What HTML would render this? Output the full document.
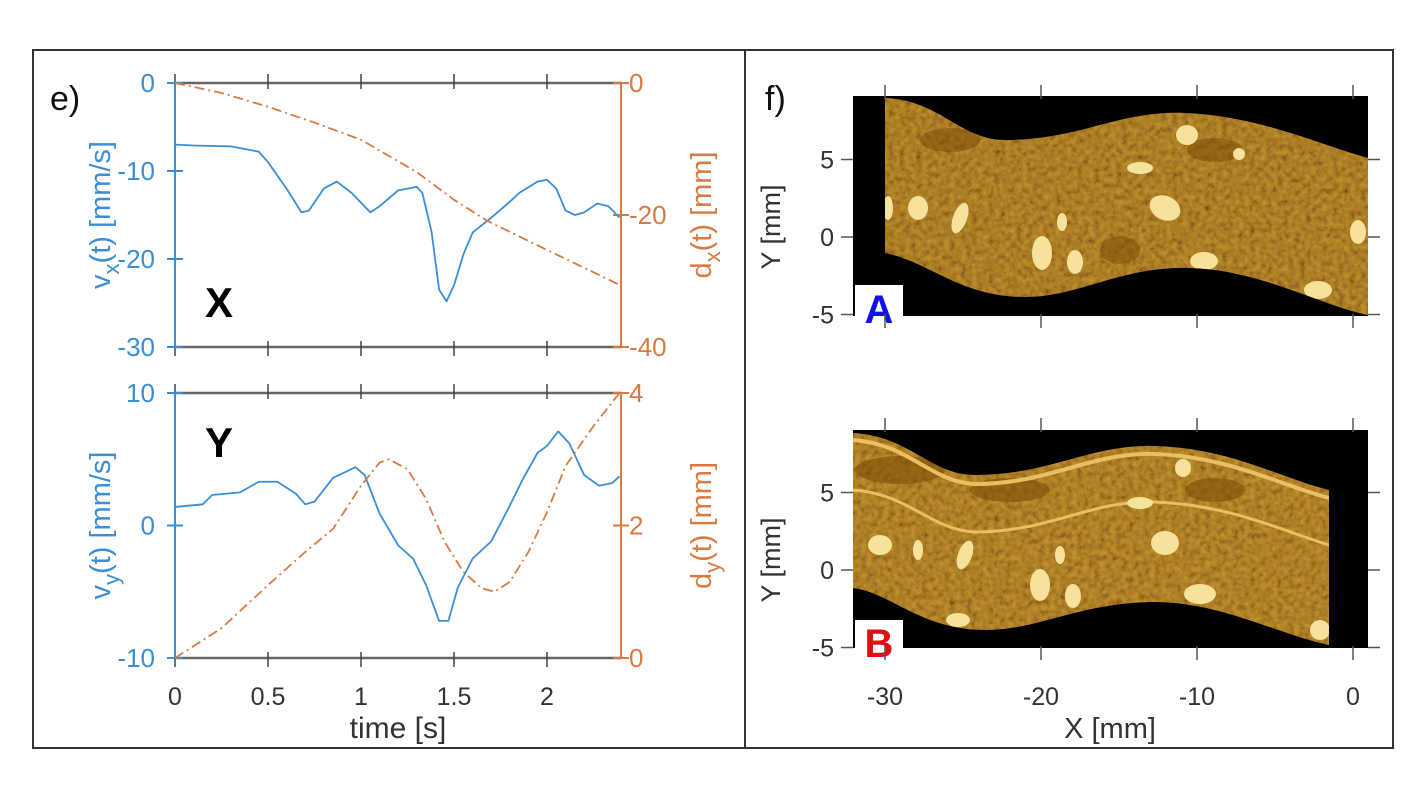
<!DOCTYPE html>
<html><head><meta charset="utf-8"><style>
body{margin:0;background:#fff;}
svg{display:block;font-family:"Liberation Sans",sans-serif;}
</style></head><body>
<svg id="fig" width="1421" height="801" viewBox="0 0 1421 801">
<defs>
<filter id="tex" x="0" y="0" width="100%" height="100%">
<feTurbulence type="fractalNoise" baseFrequency="0.18" numOctaves="2" seed="4" result="n"/>
<feColorMatrix in="n" type="matrix" values="1.2 0 0 0 -0.1  1.0 0 0 0 -0.15  0.2 0 0 0 0  0 0 0 0 1"/>
</filter>
<clipPath id="clipA"><path d="M885,98 C940,100 960,140 1005,140 C1080,140 1120,110 1185,113 C1260,116 1320,145 1368,158 L1368,315 C1320,305 1260,270 1190,268 C1120,266 1080,297 1025,297 C960,297 930,262 885,253 Z"/></clipPath>
<clipPath id="clipB"><path d="M853,433 C910,436 930,475 975,475 C1050,475 1090,444 1155,446 C1230,448 1280,478 1329,490 L1329,645 C1280,635 1220,602 1155,602 C1080,602 1040,630 985,630 C920,630 890,592 853,588 Z"/></clipPath>
</defs>
<rect x="33" y="50" width="1360" height="698" fill="none" stroke="#333" stroke-width="2"/>
<line x1="745" y1="50" x2="745" y2="748" stroke="#333" stroke-width="2"/>
<text x="50" y="110" font-size="34" fill="#111">e)</text>
<text x="765" y="110" font-size="34" fill="#111">f)</text>
<g id="plots"></g>

<g>
<rect x="853" y="96" width="515" height="220" fill="#000"/>
<g clip-path="url(#clipA)"><rect x="853" y="96" width="515" height="220" fill="#a46c0a"/><rect x="853" y="96" width="515" height="220" filter="url(#tex)" opacity="0.35"/>
<ellipse cx="950" cy="140" rx="30" ry="12" fill="#7a4806" opacity="0.5"/><ellipse cx="1120" cy="250" rx="20" ry="14" fill="#7a4806" opacity="0.5"/><ellipse cx="1215" cy="150" rx="28" ry="12" fill="#7a4806" opacity="0.5"/>
<g fill="#f6e29a"><ellipse cx="888" cy="208" rx="5" ry="12"/><ellipse cx="918" cy="208" rx="10" ry="12"/><ellipse cx="960" cy="218" rx="7" ry="16" transform="rotate(20 960 218)"/><ellipse cx="1042" cy="253" rx="10" ry="17"/><ellipse cx="1075" cy="262" rx="8" ry="12"/><ellipse cx="1062" cy="222" rx="5" ry="9"/><ellipse cx="1165" cy="208" rx="16" ry="12" transform="rotate(25 1165 208)"/><ellipse cx="1140" cy="168" rx="13" ry="6"/><ellipse cx="1187" cy="135" rx="11" ry="10"/><ellipse cx="1239" cy="154" rx="6" ry="6"/><ellipse cx="1204" cy="261" rx="14" ry="9"/><ellipse cx="1358" cy="232" rx="8" ry="12"/><ellipse cx="1318" cy="290" rx="14" ry="9"/></g></g>
<rect x="855" y="285" width="48" height="44" fill="#fff"/>
<text x="879" y="323" font-size="40" font-weight="bold" fill="#1010ee" text-anchor="middle">A</text>
</g>
<g>
<rect x="853" y="430" width="515" height="218" fill="#000"/>
<g clip-path="url(#clipB)"><rect x="853" y="430" width="515" height="218" fill="#a86f0c"/><rect x="853" y="430" width="515" height="218" filter="url(#tex)" opacity="0.35"/>
<ellipse cx="900" cy="470" rx="45" ry="14" fill="#7a4806" opacity="0.55"/><ellipse cx="1010" cy="490" rx="40" ry="12" fill="#7a4806" opacity="0.55"/><ellipse cx="1215" cy="490" rx="30" ry="12" fill="#7a4806" opacity="0.55"/>
<path d="M853,490 C910,494 930,530 975,532 C1050,532 1090,500 1155,502 C1230,505 1280,530 1329,545" stroke="#e8c060" stroke-width="3" fill="none"/>
<path d="M853,440 C910,444 930,482 975,484 C1050,484 1090,452 1155,454 C1230,457 1280,485 1329,498" stroke="#e8c060" stroke-width="4" fill="none"/>
<g fill="#f6e29a"><ellipse cx="880" cy="545" rx="12" ry="10"/><ellipse cx="918" cy="550" rx="5" ry="10"/><ellipse cx="965" cy="555" rx="7" ry="15" transform="rotate(20 965 555)"/><ellipse cx="1040" cy="585" rx="10" ry="16"/><ellipse cx="1073" cy="596" rx="8" ry="12"/><ellipse cx="1060" cy="555" rx="5" ry="9"/><ellipse cx="1165" cy="543" rx="14" ry="12"/><ellipse cx="1140" cy="503" rx="13" ry="6"/><ellipse cx="1183" cy="468" rx="8" ry="9"/><ellipse cx="1200" cy="594" rx="16" ry="10"/><ellipse cx="1320" cy="630" rx="10" ry="10"/><ellipse cx="958" cy="620" rx="12" ry="7"/></g></g>
<rect x="855" y="620" width="48" height="44" fill="#fff"/>
<text x="879" y="657" font-size="40" font-weight="bold" fill="#e01010" text-anchor="middle">B</text>
</g>
<g id="imgaxes" fill="#333" font-size="25"></g>
</svg>
<script>
const tData = [0,0.1,0.3,0.45,0.5,0.6,0.68,0.72,0.8,0.87,0.95,1.05,1.1,1.2,1.3,1.33,1.38,1.42,1.46,1.5,1.55,1.6,1.7,1.8,1.85,1.95,2.0,2.05,2.1,2.15,2.2,2.27,2.33,2.39];
const vxData = [-7,-7.1,-7.2,-7.8,-9,-12,-14.7,-14.5,-12,-11.2,-12.5,-14.7,-14,-12.2,-11.8,-12.5,-17,-23.5,-24.8,-23,-19.5,-17,-15.3,-13.5,-12.5,-11.2,-11,-12,-14.5,-15,-14.7,-13.7,-14,-15.3];
const tDx = [0,0.25,0.5,0.75,1,1.3,1.5,1.68,2,2.2,2.39];
const dxData = [0,-1.5,-3.6,-6,-8.6,-13.5,-17.7,-20.9,-25.3,-28,-30.6];
const tVy = [0,0.15,0.2,0.35,0.45,0.55,0.65,0.7,0.75,0.85,0.97,1.02,1.1,1.2,1.28,1.35,1.42,1.47,1.52,1.6,1.7,1.8,1.87,1.95,2.0,2.06,2.12,2.2,2.28,2.35,2.39];
const vyData = [1.4,1.6,2.3,2.5,3.3,3.3,2.4,1.6,1.8,3.6,4.4,3.8,0.9,-1.5,-2.5,-4.5,-7.2,-7.2,-4.7,-2.5,-1.2,1.5,3.5,5.5,6,7.1,6.2,3.8,3.0,3.2,3.7];
const tDy = [0,0.25,0.5,0.7,0.85,1,1.1,1.15,1.25,1.35,1.45,1.55,1.65,1.72,1.8,1.9,2.0,2.1,2.25,2.39];
const dyData = [0,0.45,1.1,1.6,1.95,2.6,2.95,3.0,2.85,2.4,1.75,1.3,1.05,1.0,1.15,1.6,2.2,2.9,3.5,4.0];
const timeTicks = [0,0.5,1,1.5,2];
const timeTickLabels = ["0","0.5","1","1.5","2"];
const vxTicks = [0,-10,-20,-30];
const dxTicks = [0,-20,-40];
const vyTicks = [10,0,-10];
const dyTicks = [4,2,0];
const imgXTicks = [-30,-20,-10,0];
const imgYTicks = [5,0,-5];

const NS='http://www.w3.org/2000/svg';
const BLUE='#3b8ed8', ORANGE='#da7a42';
const g=document.getElementById('plots');
function mk(tag,attrs,parent,text){const e=document.createElementNS(NS,tag);for(const k in attrs)e.setAttribute(k,attrs[k]);if(text!==undefined)e.textContent=text;(parent||g).appendChild(e);return e;}
const xS=t=>175+t*186;
const X0=175, X1=621;
function panel(top,bot,lMin,lMax,rMin,rMax,lT,rT,tv,vv,td,dv,name,letter,lbl,rlbl){
  const yl=v=>bot-(v-lMin)/(lMax-lMin)*(bot-top);
  const yr=v=>bot-(v-rMin)/(rMax-rMin)*(bot-top);
  let e;
  e=mk('line',{x1:X0,y1:top,x2:X1,y2:top,stroke:'#666','stroke-width':2.5});
  
  e=mk('line',{x1:X0,y1:bot,x2:X1,y2:bot,stroke:'#666','stroke-width':2.5});
  
  timeTicks.forEach(t=>{
    e=mk('line',{x1:xS(t),y1:top-9,x2:xS(t),y2:top+6,stroke:'#444','stroke-width':1.5});
    
    e=mk('line',{x1:xS(t),y1:bot-6,x2:xS(t),y2:bot+9,stroke:'#444','stroke-width':1.5});
    
  });
  e=mk('line',{x1:X0,y1:top,x2:X0,y2:bot,stroke:BLUE,'stroke-width':2});
  
  e=mk('line',{x1:X1,y1:top,x2:X1,y2:bot,stroke:ORANGE,'stroke-width':2});
  
  lT.forEach(v=>{
    e=mk('line',{x1:X0-8,y1:yl(v),x2:X0+8,y2:yl(v),stroke:BLUE,'stroke-width':2});
    
    e=mk('text',{x:X0-20,y:yl(v)+9,'font-size':26,fill:BLUE,'text-anchor':'end'},g,String(v));
    
  });
  rT.forEach(v=>{
    e=mk('line',{x1:X1-8,y1:yr(v),x2:X1+8,y2:yr(v),stroke:ORANGE,'stroke-width':2});
    
    e=mk('text',{x:X1+8,y:yr(v)+9,'font-size':26,fill:ORANGE},g,String(v));
    
  });
  e=mk('path',{d:'M'+tv.map((t,i)=>xS(t)+','+yl(vv[i])).join(' L'),fill:'none',stroke:BLUE,'stroke-width':1.8,'stroke-linejoin':'round'});
  
  e=mk('path',{d:'M'+td.map((t,i)=>xS(t)+','+yr(dv[i])).join(' L'),fill:'none',stroke:ORANGE,'stroke-width':1.8,'stroke-dasharray':'10 4 2 4'});
  
  e=mk('text',{x:205,y:letter[1],'font-size':42,'font-weight':'bold',fill:'#000'},g,letter[0]);
  
  const cy=(top+bot)/2;
  e=mk('text',{x:0,y:0,'font-size':29,fill:BLUE,'text-anchor':'middle',transform:`translate(110,${cy}) rotate(-90)`},g);
  e.innerHTML=lbl;
  
  e=mk('text',{x:0,y:0,'font-size':29,fill:ORANGE,'text-anchor':'middle',transform:`translate(711,${cy}) rotate(-90)`},g);
  e.innerHTML=rlbl;
  
}
panel(83,347,-30,0,-40,0,vxTicks,dxTicks,tData,vxData,tDx,dxData,'x-plot',['X',317],
 'v<tspan dy="9" font-size="22">x</tspan><tspan dy="-9">(t) [mm/s]</tspan>','d<tspan dy="9" font-size="22">x</tspan><tspan dy="-9">(t) [mm]</tspan>');
panel(393,658,-10,10,0,4,vyTicks,dyTicks,tVy,vyData,tDy,dyData,'y-plot',['Y',457],
 'v<tspan dy="9" font-size="22">y</tspan><tspan dy="-9">(t) [mm/s]</tspan>','d<tspan dy="9" font-size="22">y</tspan><tspan dy="-9">(t) [mm]</tspan>');
let e;
timeTicks.forEach((t,i)=>{e=mk('text',{x:xS(t),y:705,'font-size':25,fill:'#333','text-anchor':'middle'},g,timeTickLabels[i]);
});
e=mk('text',{x:398,y:738,'font-size':30,fill:'#333','text-anchor':'middle'},g,'time [s]');


const ia=document.getElementById('imgaxes');
const ix=v=>1353+v*15.6;
[[97,316,237,15.5,'image-a'],[430,648,570,15.5,'image-b']].forEach(([top,bot,y0,s,nm])=>{
  imgXTicks.forEach(v=>{
    e=mk('line',{x1:ix(v),y1:top-12,x2:ix(v),y2:top+2,stroke:'#555','stroke-width':1.5},ia);
    
    e=mk('line',{x1:ix(v),y1:bot-2,x2:ix(v),y2:bot+12,stroke:'#555','stroke-width':1.5},ia);
    
  });
  imgYTicks.forEach(v=>{
    const y=y0-v*s;
    e=mk('line',{x1:841,y1:y,x2:853,y2:y,stroke:'#555','stroke-width':1.5},ia);
    
    e=mk('line',{x1:1368,y1:y,x2:1380,y2:y,stroke:'#555','stroke-width':1.5},ia);
    
    e=mk('text',{x:834,y:y+9,'text-anchor':'end'},ia,String(v));
    
  });
  e=mk('text',{x:0,y:0,'text-anchor':'middle','font-size':27,transform:`translate(780,${y0-10}) rotate(-90)`},ia,'Y [mm]');
  
});
imgXTicks.forEach(v=>{e=mk('text',{x:ix(v),y:705,'text-anchor':'middle'},ia,String(v));
});
e=mk('text',{x:1110,y:738,'font-size':29,'text-anchor':'middle'},ia,'X [mm]');

</script>
</body></html>
